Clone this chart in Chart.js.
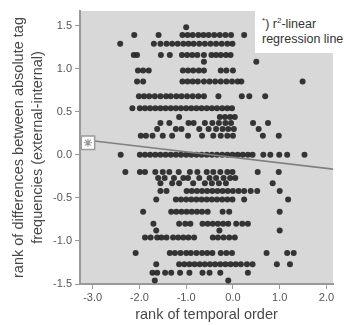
<!DOCTYPE html>
<html>
<head>
<meta charset="utf-8">
<script src="https://cdn.jsdelivr.net/npm/chart.js@4.4.1/dist/chart.umd.min.js"></script>
<style>
html, body { margin: 0; padding: 0; background: #fff; overflow: hidden; }
#wrap { position: relative; width: 344px; height: 325px; }
#note {
    position: absolute; left: 255px; top: 10px; width: 95px; height: 43px;
    background: #fff; color: #333;
    font: 12.5px "Liberation Sans", Arial, sans-serif; line-height: 15px;
    box-sizing: border-box; padding: 7px 0 0 7px; white-space: nowrap;
}
#note sup { font-size: 8px; line-height: 0; }
</style>
</head>
<body>
<div id="wrap">
    <canvas id="chart" width="344" height="325"></canvas>
    <div id="note"><sup>*</sup>) r<sup>2</sup>-linear<br>regression line</div>
</div>
<script>
// each row: one y value and the x values of its dots
const rowY = [1.48, 1.39, 1.29, 1.16, 1.08, 0.98, 0.85, 0.68, 0.54, 0.44, 0.37, 0.30, 0.22,
    0.0, -0.2, -0.27, -0.33, -0.42, -0.52, -0.66, -0.8, -0.88, -0.96, -1.14, -1.27, -1.37, -1.46];
const rowX = [
    [-1.0],
    [-2.11, -1.59, -1.08, -0.97, -0.86, -0.74, -0.63, -0.52, -0.4, -0.28, -0.16, -0.04, 0.24],
    [-2.41, -1.69, -1.55, -1.42, -1.3, -1.18, -1.06, -0.95, -0.84, -0.72, -0.6, -0.48, -0.36, -0.24, -0.12, -0.01],
    [-2.12, -2.05, -1.54, -1.35, -1.09, -0.98, -0.87, -0.76, -0.62, -0.46, -0.36, -0.26, -0.15, -0.05],
    [-0.62, 0.5],
    [-2.03, -1.92, -1.8, -1.07, -0.96, -0.85, -0.73, -0.62, -0.26, -0.14, 0.0],
    [-2.05, -1.92, -1.08, -0.97, -0.86, -0.75, -0.62, -0.5, -0.38, -0.26, -0.14, -0.02, 0.1, 0.18, 1.49],
    [-2.01, -1.9, -1.79, -1.67, -1.55, -1.43, -1.33, -1.21, -1.1, -0.98, -0.86, -0.74, -0.62, -0.31, 0.19, 0.35, 0.69],
    [-2.15, -1.99, -1.88, -1.77, -1.66, -1.55, -1.44, -1.33, -1.22, -1.11, -1.0, -0.89, -0.78, -0.67, -0.56, -0.45, -0.34, -0.23, -0.12, -0.02],
    [-1.15, -0.28, -0.17, -0.06, 0.04],
    [-1.55, -1.36, -0.95, -0.84, -0.6, -0.44, -0.3, -0.16, -0.04, 0.43, 0.75],
    [-1.62, -1.22, -1.1, -0.72, -0.52, -0.36, -0.22, -0.1, 0.02, 0.55],
    [-1.97, -1.86, -1.72, -1.5, -1.3, -0.96, -0.66, -0.42, -0.26, -0.12, 0.0, 0.64, 0.98],
    [-2.4, -1.99, -1.88, -1.77, -1.66, -1.55, -1.44, -1.33, -1.22, -1.11, -1.0, -0.89, -0.78, -0.67, -0.56, -0.45, -0.34, -0.23, -0.12, -0.01, 0.1, 0.21, 0.32, 0.42, 0.65, 0.8, 0.99, 1.16, 1.53],
    [-2.3, -1.99, -1.88, -1.66, -1.5, -1.36, -1.16, -0.92, -0.76, -0.56, -0.42, -0.27, -0.12, -0.01, 0.53, 0.98],
    [-1.6, -1.46, -1.26, -1.06, -0.96, -0.72, -0.5, -0.36, -0.2, -0.06, 0.05],
    [-1.55, -1.3, -1.15, -0.85, -0.6, -0.45, -0.3, -0.15, 0.85],
    [-1.55, -1.42, -0.99, -0.88, -0.77, -0.66, -0.55, -0.44, -0.33, -0.22, -0.11, 0.0, 0.12, 0.24, 0.38, 0.52, 1.0],
    [-1.64, -1.22, -1.11, -1.0, -0.89, -0.78, -0.67, -0.56, -0.45, -0.34, -0.23, -0.12, -0.01, 0.24, 1.18],
    [-1.92, -1.32, -1.21, -1.1, -0.99, -0.88, -0.77, -0.66, -0.54, -0.22, -0.08, 1.0],
    [-1.7, -1.15, -1.02, -0.91, -0.65, -0.54, -0.43, -0.32, -0.21, -0.1, 0.07, 0.2, 0.32],
    [-1.64, -0.29, 1.0],
    [-1.88, -1.76, -1.62, -1.53, -1.42, -1.28, -1.17, -1.06, -0.95, -0.83, -0.43, -0.32, -0.2, -0.08, 0.04],
    [-2.08, -1.35, -1.24, -1.12, -1.0, -0.9, -0.78, -0.66, -0.55, -0.44, -0.26, -0.14, -0.02, 0.72, 1.16, 1.3],
    [-1.64, -1.15, -1.04, -0.93, -0.82, -0.71, -0.6, -0.49, -0.38, -0.27, -0.16, -0.05, 0.06, 0.17, 0.3, 0.42, 0.94, 1.22],
    [-1.72, -1.62, -1.45, -1.32, -1.13, -0.93, -0.65, -0.5, -0.27, 0.32],
    [-1.67, -0.1]
];
const lineX = [-3.1, 2.2];
const lineY = [0.17, -0.17];
const markX = [-3.1];
const markY = [0.14];
const xTicks = [-3, -2, -1, 0, 1, 2];
const yTicks = [-1.5, -1, -0.5, 0, 0.5, 1, 1.5];

let dots = [];
rowY.forEach((y, i) => {
    rowX[i].forEach((x) => dots.push({ x: x, y: y }));
});

const font = '"Liberation Sans", Arial, sans-serif';

const plotBg = {
    id: 'plotBg',
    beforeDraw(c) {
        const a = c.chartArea;
        c.ctx.save();
        c.ctx.fillStyle = '#d8d8d8';
        c.ctx.fillRect(a.left, a.top, a.right - a.left, a.bottom - a.top);
        c.ctx.restore();
    }
};

// datasets listed first are drawn on top
let chart = new Chart(document.querySelector('#chart'), {
    type: 'scatter',
    data: {
        datasets: [
            {
                data: markX.map((x, i) => ({ x: x, y: markY[i] })),
                pointStyle: 'star',
                pointRadius: 4,
                pointBorderColor: '#9a9a9a',
                pointBorderWidth: 1.2
            },
            {
                data: markX.map((x, i) => ({ x: x, y: markY[i] })),
                pointStyle: 'rect',
                pointRadius: 9.5,
                pointBackgroundColor: '#fff',
                pointBorderColor: '#9a9a9a',
                pointBorderWidth: 1.5
            },
            {
                data: lineX.map((x, i) => ({ x: x, y: lineY[i] })),
                showLine: true,
                pointRadius: 0,
                borderColor: '#808080',
                borderWidth: 1.5
            },
            {
                data: dots,
                pointRadius: 3,
                pointBackgroundColor: 'rgba(38,38,38,0.92)',
                pointBorderWidth: 0
            }
        ]
    },
    options: {
        responsive: false,
        animation: false,
        devicePixelRatio: 1,
        layout: { padding: { top: 9, right: 0, left: 0, bottom: 0 } },
        plugins: { legend: { display: false }, tooltip: { enabled: false } },
        scales: {
            x: {
                type: 'linear',
                min: -3.27,
                max: 2.14,
                afterBuildTicks: (s) => { s.ticks = xTicks.map((v) => ({ value: v })); },
                afterFit: (s) => { s.height = 41; },
                ticks: { callback: (v) => v.toFixed(1), font: { family: font, size: 11 }, color: '#555', padding: 2 },
                grid: { drawOnChartArea: false, color: '#999', tickLength: 5 },
                border: { color: '#999', width: 2 },
                title: {
                    display: true,
                    text: 'rank of temporal order',
                    font: { family: font, size: 14.5 },
                    color: '#484848',
                    padding: { top: 0, bottom: 1 }
                }
            },
            y: {
                min: -1.5,
                max: 1.67,
                afterBuildTicks: (s) => { s.ticks = yTicks.map((v) => ({ value: v })); },
                afterFit: (s) => { s.width = 80; },
                ticks: { callback: (v) => v.toFixed(1), font: { family: font, size: 11 }, color: '#555', padding: 3 },
                grid: { drawOnChartArea: false, color: '#999', tickLength: 5 },
                border: { color: '#999', width: 2 },
                title: {
                    display: true,
                    text: ['rank of differences between absolute tag', 'frequencies (external-internal)'],
                    font: { family: font, size: 14.5, lineHeight: 1.3 },
                    color: '#484848',
                    padding: { top: 10, bottom: 0 }
                }
            }
        }
    },
    plugins: [plotBg]
});
</script>
</body>
</html>
